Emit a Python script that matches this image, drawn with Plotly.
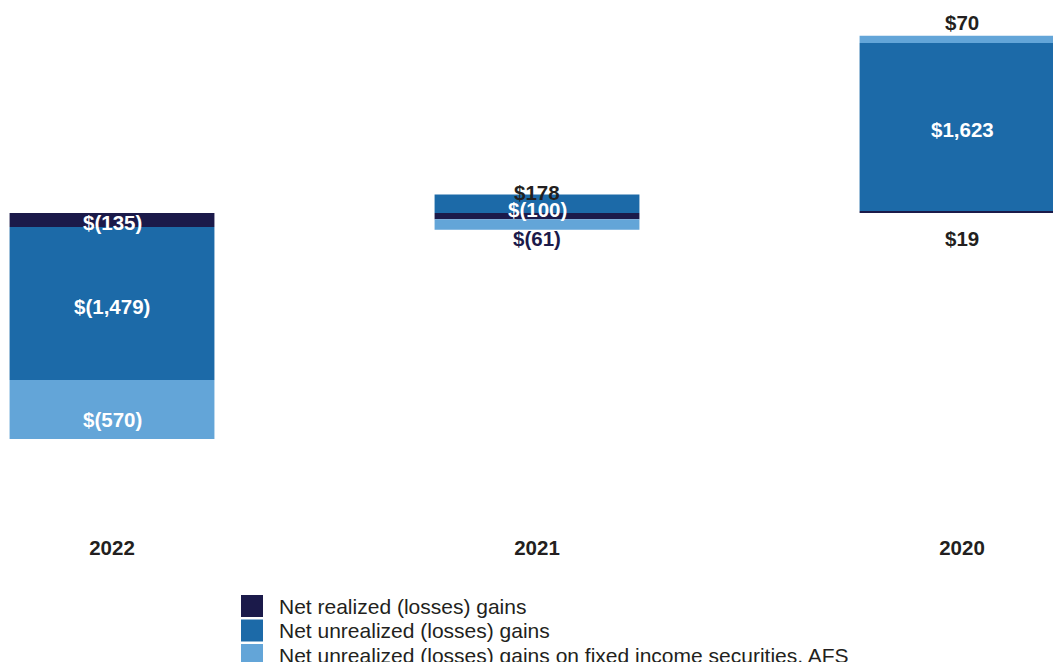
import plotly.graph_objects as go

years = ["2022", "2021", "2020"]
series_names = [
    "Net realized (losses) gains",
    "Net unrealized (losses) gains",
    "Net unrealized (losses) gains on fixed income securities, AFS",
]
realized = [-135, -61, 19]
unrealized = [-1479, 178, 1623]
afs = [-570, -100, 70]
labels_realized = ["$(135)", "$(61)", "$19"]
labels_unrealized = ["$(1,479)", "$178", "$1,623"]
labels_afs = ["$(570)", "$(100)", "$70"]

colors = ["#1b1a4a", "#1c6aa8", "#63a5d8"]
W, H = 1053, 662
T, B = 10, 530  # plot area top/bottom in px
FONT = "Liberation Sans, Arial"

fig = go.Figure()
series = [realized, unrealized, afs]
for name, vals, col in zip(series_names, series, colors):
    fig.add_trace(go.Bar(x=years, y=vals, name=name, marker_color=col,
                         marker_line_width=0, width=0.482, showlegend=False,
                         hoverinfo="skip"))

# label placement styles: (yshift px, text color) per series per year
label_style = {
    0: [(-3, "white"), (-22, "#1b1a4a"), (-25, "#231f20")],
    1: [(-3, "white"), (11, "#231f20"), (-2, "white")],
    2: [(-10, "white"), (15, "white"), (13, "#231f20")],
}
all_labels = [labels_realized, labels_unrealized, labels_afs]

for i, yr in enumerate(years):
    pos, neg = 0.0, 0.0
    for s, vals in enumerate(series):
        v = vals[i]
        if v >= 0:
            base, pos = pos, pos + v
        else:
            base, neg = neg, neg + v
        center = base + v / 2
        ys, col = label_style[s][i]
        if s == 2 and i == 2:
            center = base + v
        if s == 0 and i == 2:
            center = base
        fig.add_annotation(x=i, y=center, xref="x", yref="y",
                           text="<b>%s</b>" % all_labels[s][i],
                           showarrow=False, yshift=ys,
                           font=dict(family=FONT, size=20.5, color=col))

scale = 226 / 2184.0
ytop = (213 - T) / scale
ybot = -(B - 213) / scale

fig.update_layout(
    width=W, height=H, barmode="relative",
    margin=dict(l=0, r=0, t=T, b=H - B),
    plot_bgcolor="white", paper_bgcolor="white",
    xaxis=dict(type="category", range=[-112 / 425, 2 + (W - 962) / 425], showgrid=False,
               zeroline=False, showline=False, ticks="", ticklabelstandoff=3,
               tickfont=dict(family=FONT, size=20.5, color="#231f20"),
               tickvals=years, ticktext=["<b>%s</b>" % y for y in years]),
    yaxis=dict(range=[ybot, ytop], visible=False),
    font=dict(family=FONT),
)

def py2paper(py):
    return (B - py) / (B - T)

for k, (name, col) in enumerate(zip(series_names, colors)):
    top = 595 + k * 24.5
    fig.add_shape(type="rect", xref="paper", yref="paper",
                  x0=241 / W, x1=263 / W, y0=py2paper(top + 22), y1=py2paper(top),
                  fillcolor=col, line_width=0)
    fig.add_annotation(xref="paper", yref="paper", x=277 / W, y=py2paper(top + 11),
                       xanchor="left", yanchor="middle", text=name, showarrow=False,
                       font=dict(family=FONT, size=21, color="#231f20"))

fig.write_html("out.html", config={"displayModeBar": False},
               post_script="document.body.style.margin='0';document.body.style.overflow='hidden';")
